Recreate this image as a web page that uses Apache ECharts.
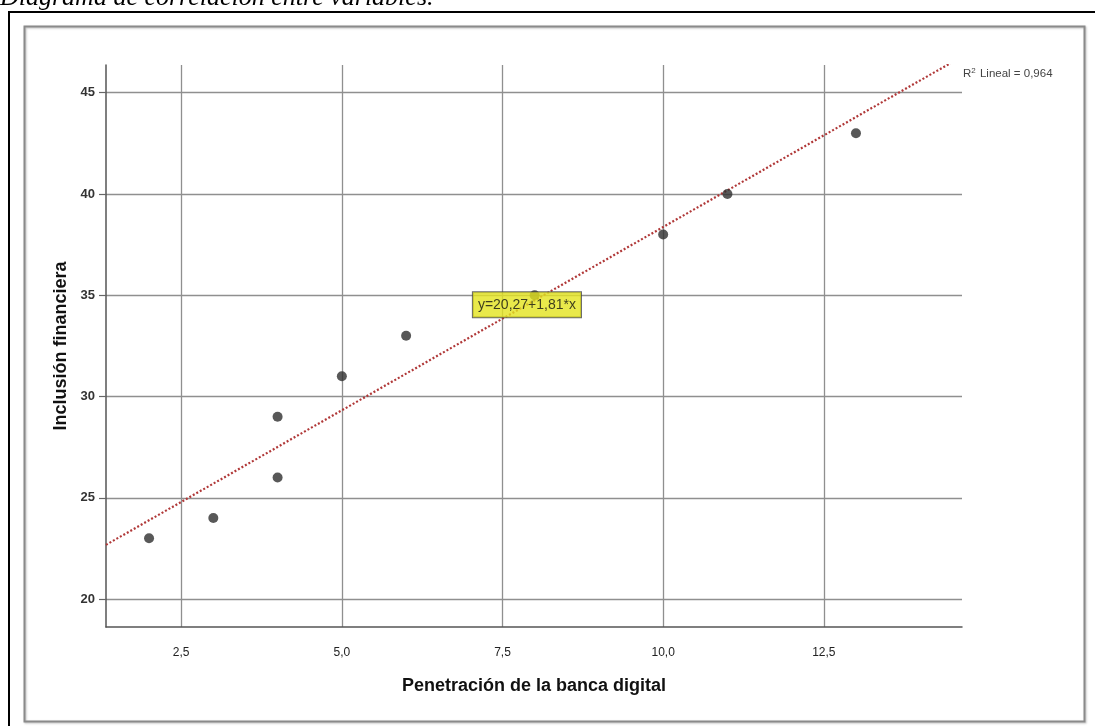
<!DOCTYPE html>
<html>
<head>
<meta charset="utf-8">
<title>Diagrama de correlación entre variables</title>
<script src="https://cdn.jsdelivr.net/npm/echarts@6/dist/echarts.min.js"></script>
<style>
  html, body { margin: 0; padding: 0; background: #ffffff; }
  #chart { width: 1095px; height: 726px; }
</style>
</head>
<body>
<div id="chart"></div>
<script>
// Observaciones: penetración de la banca digital (x) e inclusión financiera (y)
const penetracion = [2, 3, 4, 4, 5, 6, 8, 10, 11, 13];
const inclusion = [23, 24, 26, 29, 31, 33, 35, 38, 40, 43];

// Ajuste lineal
const intercepto = 20.27;
const pendiente = 1.81;
const r2 = 0.964;

// Marcas de los ejes
const xTicks = [2.5, 5.0, 7.5, 10.0, 12.5];
const yTicks = [20, 25, 30, 35, 40, 45];

// Rango visible de cada eje
const xRange = [1.33, 14.65];
const yRange = [18.62, 46.37];

// Punto de la recta donde se ancla la etiqueta de la ecuación
const xEtiqueta = 7.88;

const coma = v => String(v).replace('.', ',');
const fmtX = v => v.toFixed(1).replace('.', ',');

const puntos = penetracion.map((x, i) => [x, inclusion[i]]);
const recta = xRange.map(x => [x, intercepto + pendiente * x]);
const ecuacion = 'y=' + coma(intercepto) + '+' + coma(pendiente) + '*x';

const chart = echarts.init(document.getElementById('chart'), null, { renderer: 'canvas' });

const sans = 'Liberation Sans';

chart.setOption({
  backgroundColor: '#ffffff',
  animation: false,
  graphic: [
    {
      type: 'text', z: 10,
      style: {
        x: 0, y: 11,
        text: 'Diagrama de correlación entre variables.',
        font: 'italic 26px "Liberation Serif"',
        fill: '#000', verticalAlign: 'bottom'
      }
    },
    {
      type: 'rect', z: 1, silent: true,
      shape: { x: 9, y: 12, width: 1100, height: 730 },
      style: { fill: 'none', stroke: '#000', lineWidth: 2 }
    },
    {
      type: 'rect', z: 1, silent: true,
      shape: { x: 24.5, y: 26.5, width: 1060, height: 695 },
      style: {
        fill: 'none', stroke: '#8a8a8a', lineWidth: 2,
        shadowColor: 'rgba(0,0,0,0.25)', shadowBlur: 2, shadowOffsetX: 1, shadowOffsetY: 1
      }
    },
    {
      type: 'text', z: 10,
      style: {
        x: 963, y: 74,
        text: '{a|R}{s|2}{a| Lineal = ' + coma(r2) + '}',
        fill: '#444', verticalAlign: 'middle',
        rich: {
          a: { fontFamily: sans, fontSize: 11.5, fill: '#444', verticalAlign: 'middle' },
          s: { fontFamily: sans, fontSize: 8, fill: '#444', verticalAlign: 'top', padding: [0, 1, 6, 0] }
        }
      }
    }
  ],
  grid: { left: 106, top: 65, width: 856, height: 562, containLabel: false },
  xAxis: {
    type: 'value',
    min: xRange[0], max: xRange[1],
    name: 'Penetración de la banca digital',
    nameLocation: 'middle', nameGap: 50,
    nameTextStyle: { fontFamily: sans, fontWeight: 'bold', fontSize: 18, color: '#111' },
    axisLine: { show: true, onZero: false, lineStyle: { color: '#555', width: 1.5 } },
    axisTick: { show: false, customValues: xTicks },
    axisLabel: {
      customValues: xTicks, formatter: fmtX,
      fontFamily: sans, fontSize: 12, color: '#222', margin: 20
    },
    splitLine: { show: true, lineStyle: { color: '#8f8f8f', width: 1.3 } }
  },
  yAxis: {
    type: 'value',
    min: yRange[0], max: yRange[1],
    name: 'Inclusión financiera',
    nameLocation: 'middle', nameGap: 36,
    nameTextStyle: { fontFamily: sans, fontWeight: 'bold', fontSize: 18, color: '#111' },
    axisLine: { show: true, onZero: false, lineStyle: { color: '#555', width: 1.5 } },
    axisTick: { show: true, inside: false, length: 7, customValues: yTicks, lineStyle: { color: '#666', width: 1.2 } },
    axisLabel: {
      customValues: yTicks,
      fontFamily: sans, fontSize: 13, fontWeight: 'bold', color: '#333', margin: 11
    },
    splitLine: { show: true, lineStyle: { color: '#8f8f8f', width: 1.3 } }
  },
  series: [
    {
      type: 'line',
      data: recta,
      clip: true,
      symbol: 'none',
      lineStyle: { color: '#b03838', width: 2.2, type: [2, 2] },
      z: 3
    },
    {
      type: 'scatter',
      data: puntos,
      symbol: 'circle',
      symbolSize: 10,
      itemStyle: { color: '#2e2e2e' },
      z: 4
    },
    {
      type: 'scatter',
      data: [[xEtiqueta, intercepto + pendiente * xEtiqueta]],
      symbolSize: 0,
      silent: true,
      z: 6,
      label: {
        show: true, position: 'inside',
        formatter: ecuacion,
        fontFamily: sans, fontSize: 14, color: '#111',
        backgroundColor: '#e3e31e', borderColor: '#444', borderWidth: 1,
        padding: [6, 5, 5, 5]
      }
    }
  ]
});
</script>
</body>
</html>
